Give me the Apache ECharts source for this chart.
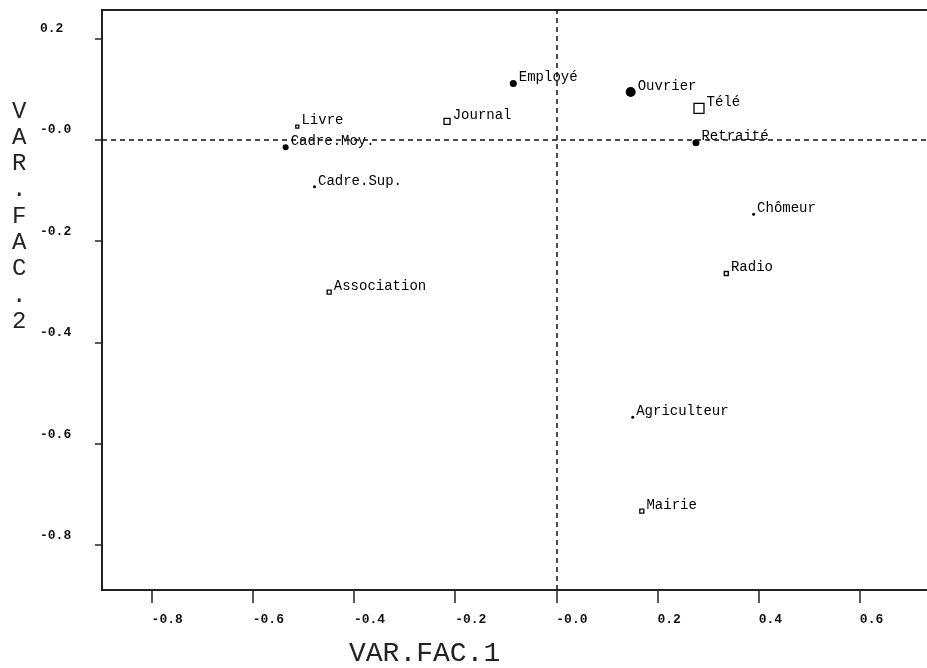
<!DOCTYPE html>
<html>
<head>
<meta charset="utf-8">
<script src="https://cdn.jsdelivr.net/npm/echarts@6/dist/echarts.min.js"></script>
<style>
  html, body { margin: 0; padding: 0; background: #fff; }
  #chart { width: 927px; height: 668px; }
</style>
</head>
<body>
<div id="chart"></div>
<script>
// categories socio-professionnelles (filled circles)
const cspNames = ['Employé', 'Ouvrier', 'Retraité', 'Cadre.Moy.', 'Cadre.Sup.', 'Chômeur', 'Agriculteur'];
const cspFac1 = [-0.085, 0.147, 0.276, -0.535, -0.478, 0.390, 0.151];
const cspFac2 = [0.111, 0.094, -0.006, -0.015, -0.093, -0.147, -0.548];

// medias (open squares)
const mediaNames = ['Livre', 'Journal', 'Télé', 'Radio', 'Association', 'Mairie'];
const mediaFac1 = [-0.512, -0.216, 0.282, 0.336, -0.449, 0.169];
const mediaFac2 = [0.026, 0.036, 0.062, -0.264, -0.301, -0.733];

const xTicks = [-0.8, -0.6, -0.4, -0.2, 0, 0.2, 0.4, 0.6];
const yTicks = [0.2, 0, -0.2, -0.4, -0.6, -0.8];

// marker sizes (style only)
const cspSize = [7, 10, 7, 6, 3, 3, 3];
const mediaSize = [3, 6, 10, 4, 4, 4];

const MONO = '"Liberation Mono", "DejaVu Sans Mono", monospace';
const INK = '#111';

const fmtTick = (v) => (Math.abs(v) < 1e-9 ? '-0.0' : v.toFixed(1));

const pointLabel = {
  show: true,
  position: 'right',
  distance: 2,
  offset: [0, -6],
  formatter: (p) => p.name,
  fontFamily: MONO,
  fontSize: 14,
  color: '#000'
};

const chart = echarts.init(document.getElementById('chart'), null, { renderer: 'canvas' });

chart.setOption({
  animation: false,
  backgroundColor: '#fff',
  title: [
    {
      text: 'VAR.FAC.1',
      left: 349,
      top: 640,
      padding: 0,
      textStyle: { fontFamily: MONO, fontSize: 28, fontWeight: 'normal', color: '#222' }
    },
    {
      text: 'V\nA\nR\n.\nF\nA\nC\n.\n2',
      left: 12,
      top: 98,
      padding: 0,
      textStyle: { fontFamily: MONO, fontSize: 24, lineHeight: 26.3, fontWeight: 'normal', color: '#222' }
    }
  ],
  grid: {
    left: 102,
    top: 10,
    width: 826,
    height: 580,
    show: true,
    borderColor: '#222',
    borderWidth: 2,
    outerBoundsMode: 'none'
  },
  xAxis: {
    type: 'value',
    min: -0.898,
    max: 0.7347,
    splitLine: { show: false },
    axisLine: { show: true, onZero: false, lineStyle: { color: '#222', width: 2 } },
    axisTick: {
      show: true,
      customValues: xTicks,
      length: 13,
      lineStyle: { color: '#222', width: 1.5 }
    },
    axisLabel: {
      customValues: xTicks,
      formatter: fmtTick,
      align: 'left',
      margin: 23,
      fontFamily: MONO,
      fontSize: 13,
      fontWeight: 'bold',
      color: INK
    }
  },
  yAxis: {
    type: 'value',
    min: -0.8887,
    max: 0.256,
    splitLine: { show: false },
    axisLine: { show: true, onZero: false, lineStyle: { color: '#222', width: 2 } },
    axisTick: {
      show: true,
      customValues: yTicks,
      length: 7,
      lineStyle: { color: '#222', width: 1.5 }
    },
    axisLabel: {
      customValues: yTicks,
      formatter: fmtTick,
      align: 'left',
      verticalAlign: 'bottom',
      padding: [0, 0, 3, 0],
      margin: 62,
      fontFamily: MONO,
      fontSize: 13,
      fontWeight: 'bold',
      color: INK
    }
  },
  series: [
    {
      name: 'CSP',
      type: 'scatter',
      symbol: 'circle',
      data: cspNames.map((n, i) => ({
        name: n,
        value: [cspFac1[i], cspFac2[i]],
        symbolSize: cspSize[i]
      })),
      itemStyle: { color: '#000', opacity: 1 },
      label: pointLabel,
      markLine: {
        silent: true,
        symbol: ['none', 'none'],
        label: { show: false },
        lineStyle: { color: INK, width: 1.5, type: [5, 4] },
        data: [{ xAxis: 0 }, { yAxis: 0 }]
      }
    },
    {
      name: 'Medias',
      type: 'scatter',
      symbol: 'rect',
      data: mediaNames.map((n, i) => ({
        name: n,
        value: [mediaFac1[i], mediaFac2[i]],
        symbolSize: mediaSize[i]
      })),
      itemStyle: { color: '#fff', borderColor: '#000', borderWidth: 1.3, opacity: 1 },
      label: pointLabel
    }
  ]
});
</script>
</body>
</html>
